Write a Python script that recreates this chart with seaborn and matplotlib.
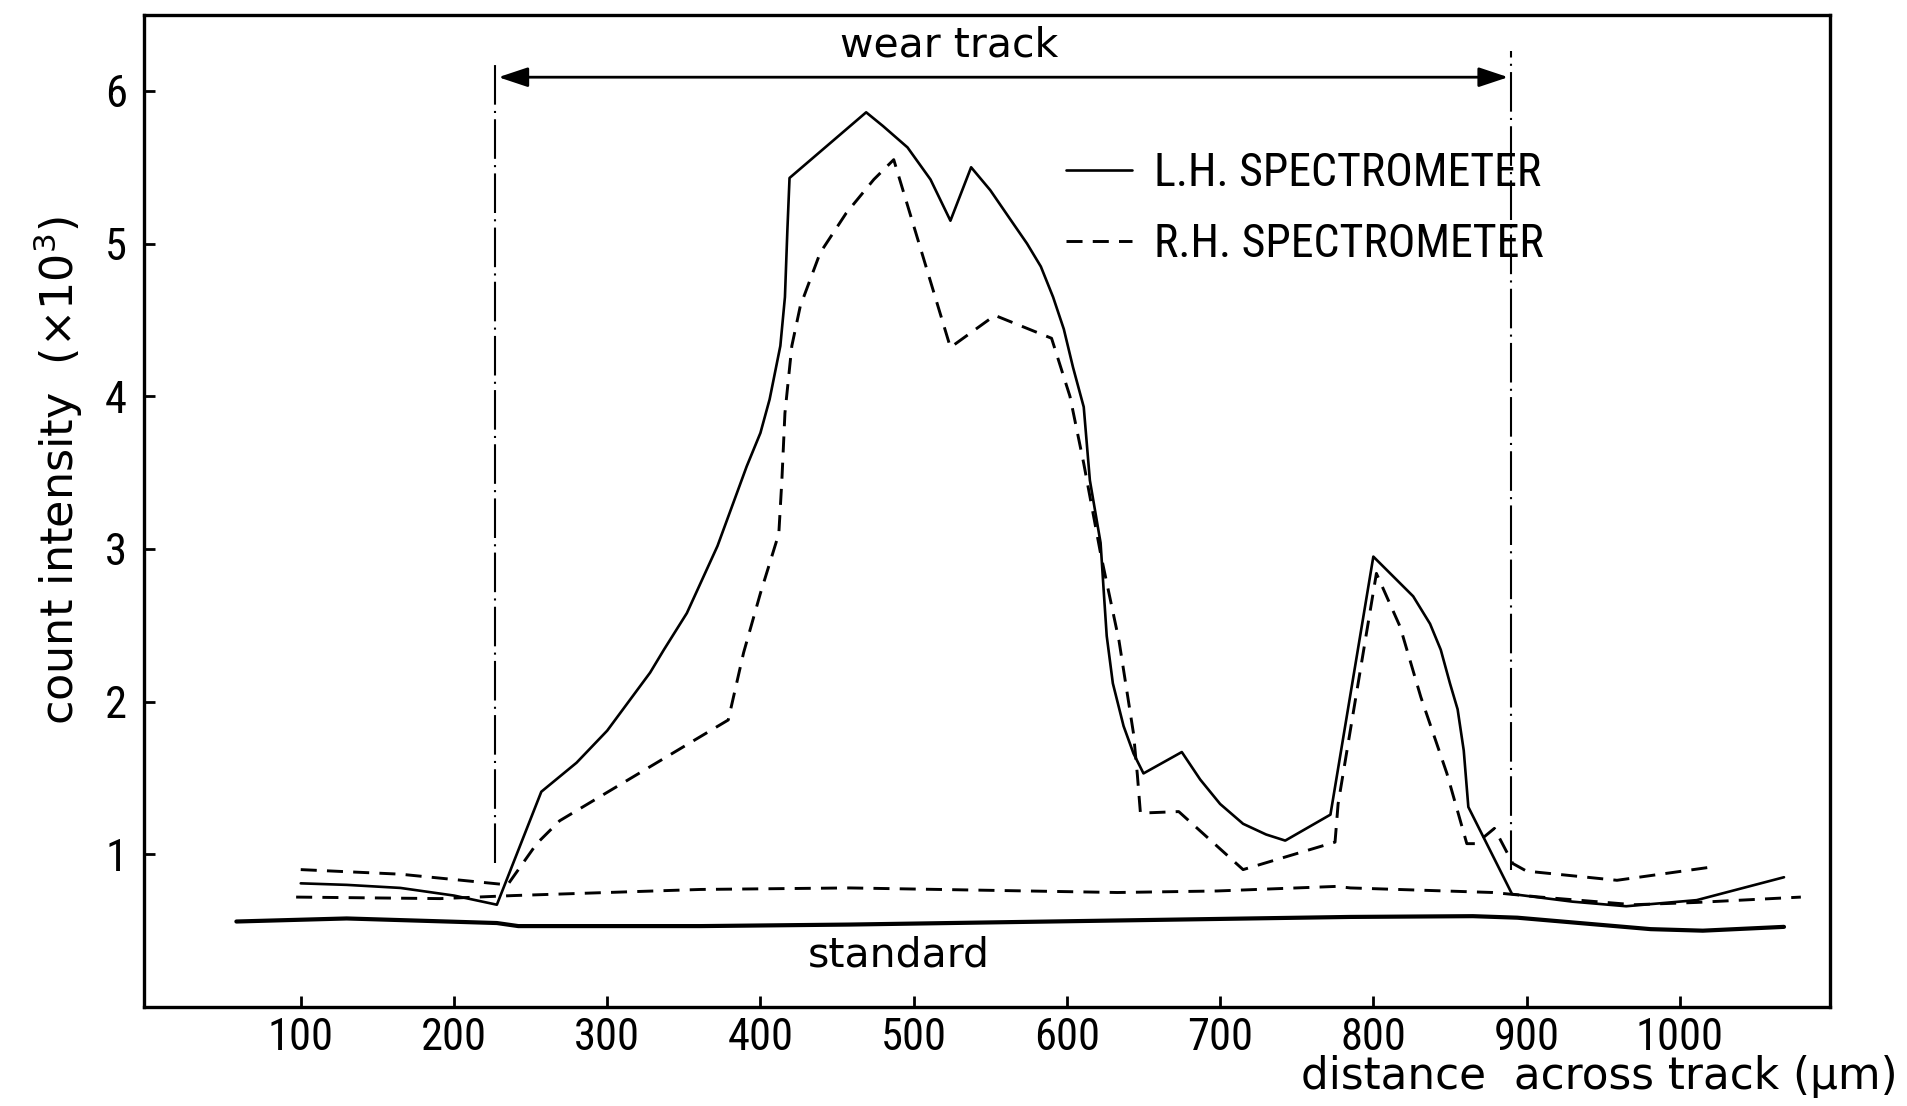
import matplotlib
matplotlib.use("Agg")
import matplotlib.pyplot as plt
import seaborn as sns
import numpy as np
import pandas as pd
from matplotlib import font_manager

# ---------------- data ----------------
lh_x = [100, 130, 165, 200, 228, 257, 280, 300, 328, 337, 352, 372, 391, 400, 406,
        413, 416, 417.6, 419, 469, 480, 496, 511, 524, 537.5, 550, 563, 574, 583,
        591, 598, 604, 611, 615, 622, 624, 626, 630, 637, 643.5, 650, 675, 687, 700,
        715, 730, 742.5, 772, 800, 813, 826, 837, 844, 850, 855, 859, 862, 890.5,
        930, 965, 1011, 1068]
lh_y = [0.81, 0.80, 0.78, 0.73, 0.67, 1.41, 1.60, 1.81, 2.19, 2.34, 2.58, 3.02, 3.54,
        3.76, 3.98, 4.33, 4.65, 5.09, 5.43, 5.86, 5.77, 5.63, 5.42, 5.15, 5.50, 5.35,
        5.16, 5.00, 4.85, 4.65, 4.44, 4.19, 3.93, 3.45, 3.04, 2.73, 2.43, 2.12, 1.84,
        1.66, 1.53, 1.67, 1.49, 1.33, 1.20, 1.13, 1.09, 1.26, 2.95, 2.82, 2.69, 2.51,
        2.34, 2.12, 1.95, 1.68, 1.31, 0.74, 0.69, 0.66, 0.70, 0.85]

rh_x = [100, 165, 235, 254, 269, 379, 389, 400, 412, 414, 416, 420.5, 426, 439, 456,
        474, 487, 524, 553, 590, 602, 611, 622, 634, 643.5, 646, 648, 673, 715, 775,
        777, 802, 817.5, 831, 848, 861, 867, 879, 891, 900, 959, 1023]
rh_y = [0.90, 0.87, 0.80, 1.07, 1.22, 1.88, 2.32, 2.71, 3.10, 3.45, 3.89, 4.33, 4.59,
        4.94, 5.20, 5.42, 5.55, 4.32, 4.53, 4.38, 4.00, 3.56, 2.97, 2.40, 1.79, 1.52,
        1.27, 1.28, 0.90, 1.08, 1.33, 2.84, 2.49, 2.03, 1.53, 1.07, 1.07, 1.17, 0.94,
        0.89, 0.83, 0.92]

std_rh_x = [97, 191, 239, 361, 458, 633, 698, 776, 785, 878, 909, 970, 1011, 1079]
std_rh_y = [0.72, 0.71, 0.73, 0.77, 0.78, 0.75, 0.76, 0.79, 0.78, 0.75, 0.72, 0.67,
            0.685, 0.72]

std_lh_x = [58, 130, 228, 242, 361, 458, 785, 865, 894, 981, 1015, 1068]
std_lh_y = [0.56, 0.58, 0.55, 0.53, 0.53, 0.54, 0.59, 0.595, 0.585, 0.51, 0.50, 0.525]

track_x = [227, 890]          # wear-track boundaries
track_bottom = [0.94, 0.90]
track_top = [6.18, 6.26]
arrow_y = 6.09

x_ticks = [100, 200, 300, 400, 500, 600, 700, 800, 900, 1000]
y_ticks = [1, 2, 3, 4, 5, 6]

labels = ["L.H. SPECTROMETER", "R.H. SPECTROMETER"]

# ---------------- style ----------------
sns.set_theme(style="white")
names = {f.name for f in font_manager.fontManager.ttflist}
narrow = "Roboto"
for cand in ["Liberation Sans Narrow", "Roboto Condensed", "Roboto"]:
    if cand in names:
        narrow = cand
        break
plt.rcParams["font.family"] = ["DejaVu Sans"]
plt.rcParams["text.color"] = "black"
plt.rcParams["axes.labelcolor"] = "black"

fig = plt.figure(figsize=(19.08, 11.06), dpi=100)
ax = fig.add_axes([0.0753, 0.0895, 0.9591 - 0.0753, 0.9868 - 0.0895])

dash = (0, (5.5, 3.5))

sns.lineplot(x=lh_x, y=lh_y, ax=ax, color="black", lw=1.9, sort=False,
             estimator=None, label=labels[0])
sns.lineplot(x=rh_x, y=rh_y, ax=ax, color="black", lw=2.1, sort=False,
             estimator=None, linestyle=dash, label=labels[1])
sns.lineplot(x=std_rh_x, y=std_rh_y, ax=ax, color="black", lw=2.1, sort=False,
             estimator=None, linestyle=dash)
sns.lineplot(x=std_lh_x, y=std_lh_y, ax=ax, color="black", lw=3.0, sort=False,
             estimator=None)

# wear track boundaries (dash-dot)
for xv, yb, yt in zip(track_x, track_bottom, track_top):
    ax.plot([xv, xv], [yb, yt], color="black", lw=1.5,
            linestyle=(0, (19, 3, 1, 3)))

ax.annotate("", xy=(track_x[1] - 2, arrow_y), xytext=(track_x[0] + 2, arrow_y),
            arrowprops=dict(arrowstyle="<|-|>,head_length=0.9,head_width=0.3",
                            color="black", lw=2.0, mutation_scale=20,
                            shrinkA=0, shrinkB=0))
ax.text((track_x[0] + track_x[1]) / 2 - 35, 6.30, "wear track", ha="center",
        va="center", fontsize=29.5, color="black")
ax.text(490, 0.34, "standard", ha="center", va="center", fontsize=29.5, color="black")

ax.set_xlim(-2.5, 1098)
ax.set_ylim(0, 6.5)
ax.set_xticks(x_ticks)
ax.set_yticks(y_ticks)
ax.set_xticklabels([str(t) for t in x_ticks], fontfamily=narrow, fontsize=32)
ax.set_yticklabels([str(t) for t in y_ticks], fontfamily=narrow, fontsize=32)
ax.tick_params(axis="both", direction="in", length=8, width=2, colors="black",
               bottom=True, left=True)
ax.tick_params(axis="x", pad=7)
ax.tick_params(axis="y", pad=12)
for s in ax.spines.values():
    s.set_visible(True)
    s.set_color("black")
    s.set_linewidth(2.4)
ax.set_xlabel("")
ax.set_ylabel("")

leg = ax.legend(loc="upper left", bbox_to_anchor=(1043 / 1908, 1 - 128 / 1106),
                bbox_transform=fig.transFigure, frameon=False, borderpad=0,
                handlelength=1.45, handletextpad=0.48, labelspacing=0.6,
                prop={"family": narrow, "size": 33})
for t in leg.get_texts():
    t.set_color("black")

fig.text(58 / 1908, 1 - 470 / 1106, "count intensity  (×10$^3$)", rotation=90,
         ha="center", va="center", fontsize=32, color="black")
fig.text(1898 / 1908, 1 - 1077 / 1106, "distance  across track (μm)", ha="right",
         va="center", fontsize=31.5, color="black")

fig.savefig("out.png", dpi=100, facecolor="white")
